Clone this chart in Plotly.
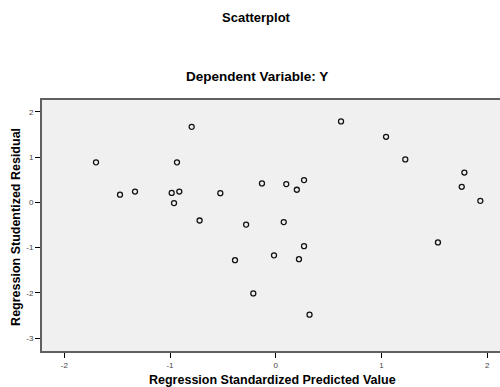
import plotly.graph_objects as go

pred = [-1.70, -1.473, -1.331, -0.984, -0.912, -0.934, -0.962, -0.72, -0.524, -0.795,
        -0.28, 0.076, 0.268, -0.385, -0.016, 0.22, -0.212, 0.32, 0.618, 1.044,
        1.226, -0.13, 0.10, 0.20, 0.268, 1.785, 1.76, 1.936, 1.535]
resid = [0.885, 0.17, 0.24, 0.21, 0.24, 0.885, -0.015, -0.40, 0.205, 1.67,
         -0.49, -0.435, -0.967, -1.277, -1.17, -1.255, -2.01, -2.48, 1.79, 1.45,
         0.95, 0.42, 0.405, 0.28, 0.493, 0.66, 0.345, 0.035, -0.885]
xticks = [-2, -1, 0, 1, 2]
yticks = [-3, -2, -1, 0, 1, 2]

FONT = "Liberation Sans, Arial, sans-serif"

fig = go.Figure()
fig.add_trace(go.Scatter(
    x=pred, y=resid, mode="markers",
    marker=dict(symbol="circle-open", size=5, color="#111111", line=dict(width=1.3)),
    showlegend=False, hoverinfo="skip"))

fig.update_layout(
    width=500, height=387,
    margin=dict(l=42, r=0, t=100, b=36),
    paper_bgcolor="white", plot_bgcolor="#f0f0f0",
    font=dict(family=FONT, color="#000"),
    xaxis=dict(range=[-2.211, 2.122], tickvals=xticks, ticktext=[str(v) for v in xticks],
               showgrid=False, zeroline=False, showline=True, mirror=True,
               linecolor="#606060", linewidth=2, ticks="outside", ticklen=5,
               tickcolor="#000", tickwidth=1, tickfont=dict(size=8, color="#444")),
    yaxis=dict(range=[-3.283, 2.263], tickvals=yticks, ticktext=[str(v) for v in yticks],
               showgrid=False, zeroline=False, showline=True,
               linecolor="#606060", linewidth=2, ticks="outside", ticklen=5,
               tickcolor="#000", tickwidth=1, tickfont=dict(size=8, color="#444")),
    annotations=[
        dict(text="<b>Scatterplot</b>", x=0.469, y=1.327, xref="paper", yref="paper",
             showarrow=False, xanchor="center", yanchor="middle",
             font=dict(size=13, family=FONT)),
        dict(text="<b>Dependent Variable: Y</b>", x=0.469, y=1.092, xref="paper", yref="paper",
             showarrow=False, xanchor="center", yanchor="middle",
             font=dict(size=13.5, family=FONT)),
        dict(text="<b>Regression Standardized Predicted Value</b>", x=0.503, y=-0.115,
             xref="paper", yref="paper", showarrow=False, xanchor="center", yanchor="middle",
             font=dict(size=12.5, family=FONT)),
        dict(text="<b>Regression Studentized Residual</b>", x=-0.057, y=0.494,
             xref="paper", yref="paper", showarrow=False, xanchor="center", yanchor="middle",
             textangle=-90, font=dict(size=12.5, family=FONT)),
    ],
)

fig.write_html("out.html", config={"displayModeBar": False},
               post_script="document.body.style.margin='0';document.body.style.overflow='hidden';")
